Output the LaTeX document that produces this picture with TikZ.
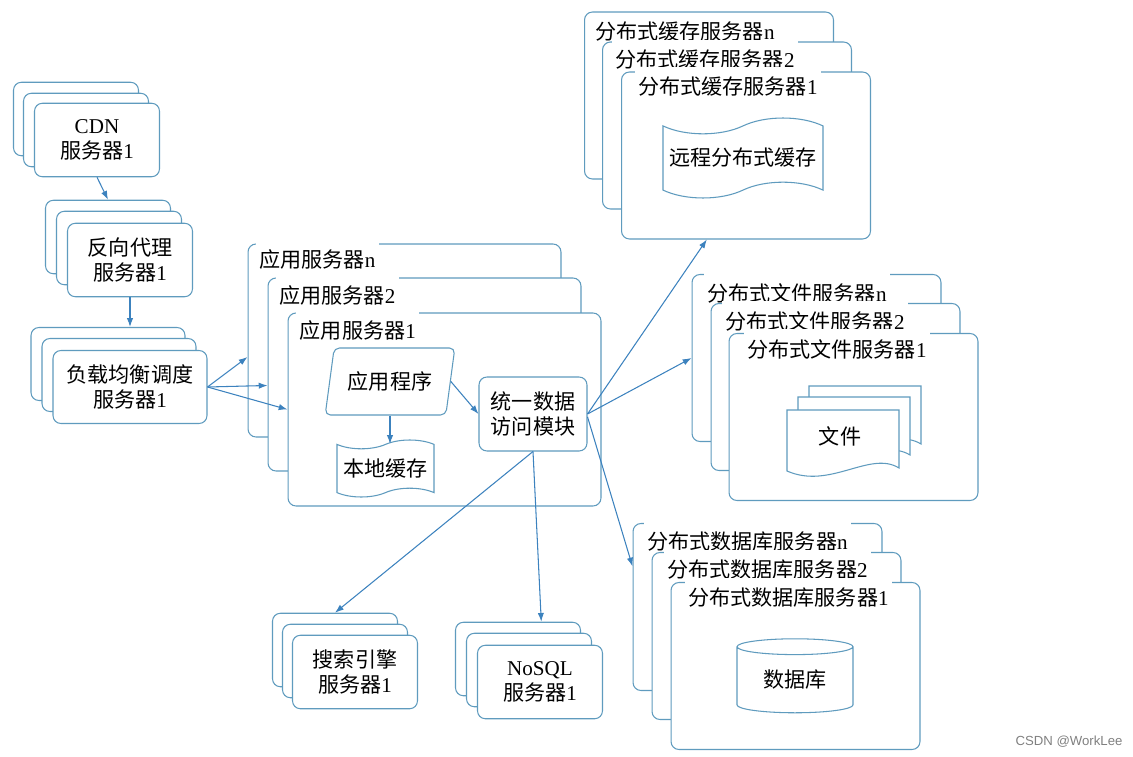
\documentclass[tikz,border=0pt]{standalone}
\usepackage{fontspec}
\setmainfont{Liberation Serif}
\newfontfamily\zhfont{Noto Sans CJK SC}
\newfontfamily\wmfont{Liberation Sans}
\usepackage{tikz}
\usetikzlibrary{positioning,shapes,arrows.meta,calc}
\usepackage{xcolor}
\definecolor{boxline}{RGB}{95,155,190}
\definecolor{arrowline}{RGB}{60,130,190}
\tikzstyle{server}=[rectangle, draw=boxline, line width=0.6pt, rounded corners=4.5pt, fill=white,
align=center, inner sep=0pt, font={\fontsize{12}{14.5}\selectfont}]
\tikzstyle{small}=[server, minimum width=2.5cm, minimum height=1.47cm]
\tikzstyle{wide}=[server, minimum width=3.08cm, minimum height=1.46cm]
\tikzstyle{appbox}=[server, minimum width=6.26cm, minimum height=3.86cm]
\tikzstyle{distbox}=[server, minimum width=4.98cm, minimum height=3.34cm]
\tikzstyle{title}=[anchor=west, fill=white, inner xsep=2pt, inner ysep=6pt, font={\fontsize{12}{14.5}\selectfont}]
\tikzstyle{store}=[tape, draw=boxline, line width=0.6pt, fill=white, inner sep=0pt, font={\fontsize{12}{14.5}\selectfont}]
\tikzstyle{link}=[draw=arrowline, line width=0.6pt, -{Latex[length=5pt,width=3.6pt]}]
\tikzstyle{doc}=[draw=boxline, line width=0.6pt, fill=white]

\begin{document}
\begin{tikzpicture}[x=0.02cm,y=-0.02cm]
    \useasboundingbox (0,0) rectangle (1133,757);
    % CDN, reverse proxy, load balancer
    \node (cdn3)[small] at (76,119) {};
    \node (cdn2)[small] at (86,130) {};
    \node (cdn1)[small] at (97,140) {CDN\\{\zhfont 服务器}1};
    \node (proxy3)[small] at (108,237) {};
    \node (proxy2)[small] at (119,248) {};
    \node (proxy1)[small] at (130,260) {{\zhfont 反向代理}\\{\zhfont 服务器}1};
    \node (lb3)[wide] at (108,364) {};
    \node (lb2)[wide] at (119,375) {};
    \node (lb1)[wide] at (130,387) {{\zhfont 负载均衡调度}\\{\zhfont 服务器}1};

    % application servers
    \node (app3)[appbox] at (404.5,340.5) {};
    \node (app3t)[title] at (255.5,259) {{\zhfont 应用服务器}n};
    \node (app2)[appbox] at (424.5,374.5) {};
    \node (app2t)[title] at (275.5,295) {{\zhfont 应用服务器}2};
    \node (app1)[appbox] at (444.5,409.5) {};
    \node (app1t)[title] at (296,330) {{\zhfont 应用服务器}1};
    \node (prog)[trapezium, trapezium left angle=71, trapezium right angle=109, trapezium stretches=true,
        draw=boxline, line width=0.6pt, rounded corners=3pt, fill=white, inner sep=0pt,
        minimum width=2.6cm, minimum height=1.34cm, font={\fontsize{12}{14.5}\selectfont}]
        at (390,381.5) {{\zhfont 应用程序}};
    \node (local)[store, tape bend height=5pt, minimum width=1.94cm, minimum height=1.14cm]
        at (385.5,468.5) {{\zhfont 本地缓存}};
    \node (dam)[server, minimum width=2.16cm, minimum height=1.48cm] at (533,414)
        {{\zhfont 统一数据}\\{\zhfont 访问模块}};

    % distributed cache
    \node (cache3)[distbox] at (709,95.5) {};
    \node (cache3t)[title, fill=none] at (591.5,32) {{\zhfont 分布式缓存服务器}n};
    \node (cache2)[distbox] at (727,125.5) {};
    \node (cache2t)[title] at (611.5,60) {{\zhfont 分布式缓存服务器}2};
    \node (cache1)[distbox] at (746,155.5) {};
    \node (cache1t)[title] at (634.5,87) {{\zhfont 分布式缓存服务器}1};
    \node (remote)[store, tape bend height=9pt, minimum width=3.2cm, minimum height=1.6cm]
        at (743,158) {{\zhfont 远程分布式缓存}};

    % distributed files
    \node (file3)[distbox] at (816.5,358) {};
    \node (file3t)[title] at (703.5,293) {{\zhfont 分布式文件服务器}n};
    \node (file2)[distbox] at (835.5,387) {};
    \node (file2t)[title] at (721.5,321) {{\zhfont 分布式文件服务器}2};
    \node (file1)[distbox] at (853.5,417) {};
    \node (file1t)[title] at (743.5,349) {{\zhfont 分布式文件服务器}1};
    \draw[doc] (809,386) -- (921,386) -- (921,444) .. controls (892,426) and (852,466) .. (809,447) -- cycle;
    \draw[doc] (798,397) -- (910,397) -- (910,455) .. controls (881,437) and (841,477) .. (798,458) -- cycle;
    \draw[doc] (787,410) -- (899,410) -- (899,468) .. controls (870,450) and (830,490) .. (787,471) -- cycle;
    \node (doc)[font={\fontsize{12}{14.5}\selectfont}] at (840,436) {{\zhfont 文件}};

    % distributed database
    \node (db3)[distbox] at (757.5,607) {};
    \node (db3t)[title] at (643.5,542) {{\zhfont 分布式数据库服务器}n};
    \node (db2)[distbox] at (776.5,636) {};
    \node (db2t)[title] at (663.5,570) {{\zhfont 分布式数据库服务器}2};
    \node (db1)[distbox] at (795.5,666) {};
    \node (db1t)[title] at (684.5,598) {{\zhfont 分布式数据库服务器}1};
    \node (base)[cylinder, shape border rotate=90, aspect=0.25, draw=boxline, line width=0.6pt, fill=white,
        inner sep=0pt, minimum width=2.32cm, minimum height=1.48cm, font={\fontsize{12}{14.5}\selectfont}]
        at (795,680) {{\zhfont 数据库}};

    % search and NoSQL
    \node (search3)[small] at (335,650) {};
    \node (search2)[small] at (345,661) {};
    \node (search1)[small] at (355,672) {{\zhfont 搜索引擎}\\{\zhfont 服务器}1};
    \node (nosql3)[small] at (518,659) {};
    \node (nosql2)[small] at (529,670) {};
    \node (nosql1)[small] at (540,682) {NoSQL\\{\zhfont 服务器}1};

    % connectors
    \draw[link] (cdn1.south) -- (proxy3.north);
    \draw[link] (proxy1.south) -- (proxy1.south |- lb3.north);
    \draw[link] (lb1.east) -- (app3.186);
    \draw[link] (lb1.east) -- (app2.184);
    \draw[link] (lb1.east) -- (app1.west);
    \draw[link] (prog.south) -- (prog.south |- local.north);
    \draw[link] (prog.east) -- (dam.west);
    \draw[link] (dam.east) -- (cache1.245);
    \draw[link] (dam.east) -- (file3.west);
    \draw[link] (dam.-3) -- (db3.162);
    \draw[link] (dam.south) -- (search3.north);
    \draw[link] (dam.south) -- (nosql3.58);

    \node (mark)[font={\wmfont\fontsize{7.5}{9}\selectfont}, text=gray] at (1069,742) {CSDN @WorkLee};
\end{tikzpicture}
\end{document}
